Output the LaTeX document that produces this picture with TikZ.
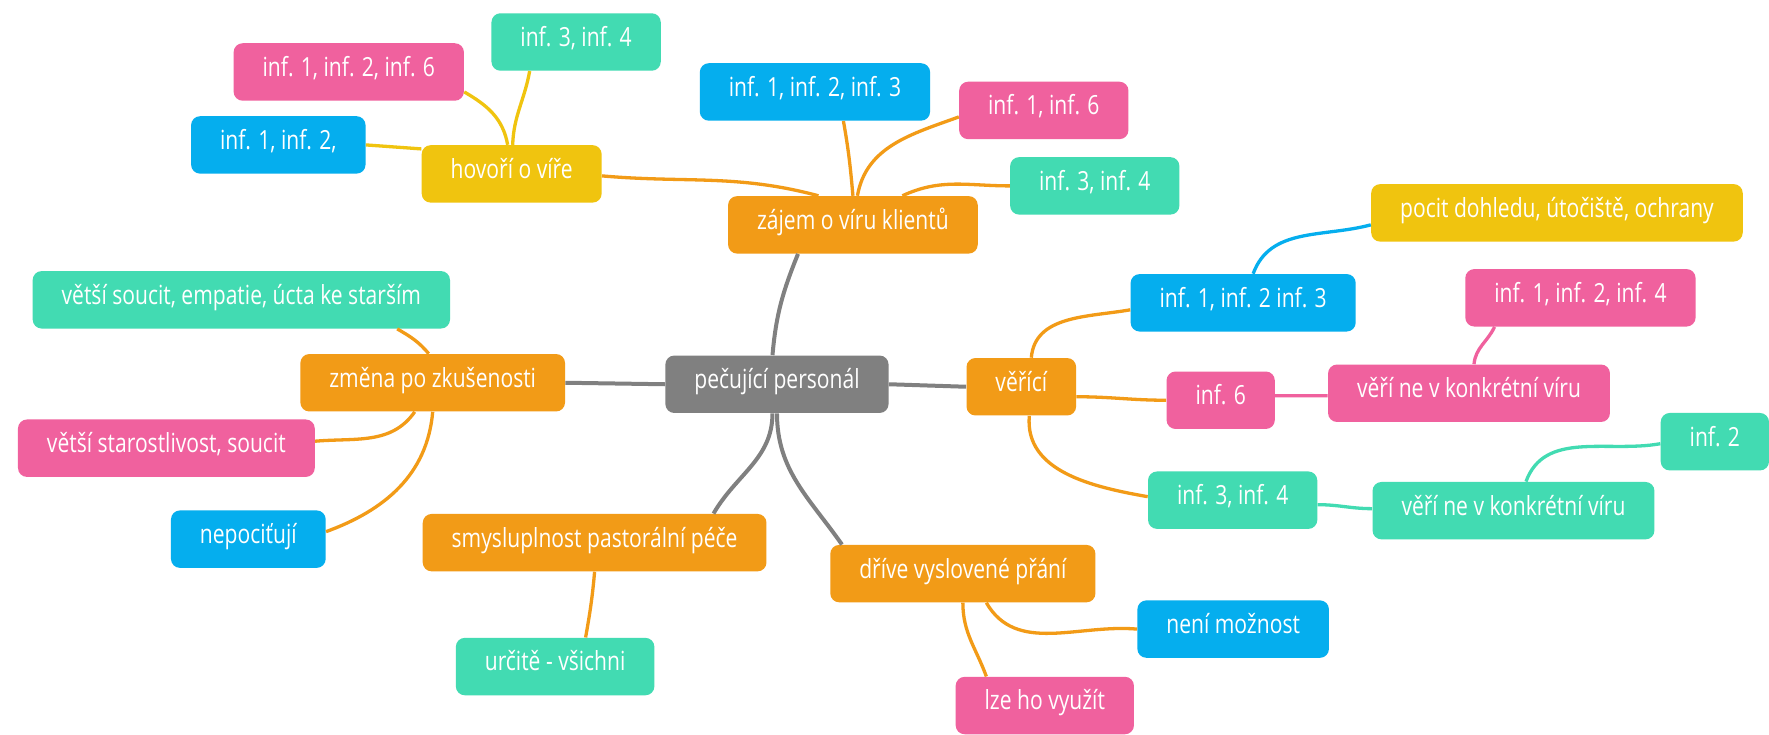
\documentclass[tikz,border=0pt]{standalone}
\usepackage{fontspec}
\setmainfont{Open Sans}[FakeStretch=0.8]
\definecolor{mmgray}{HTML}{808080}
\definecolor{mmorange}{HTML}{F29B17}
\definecolor{mmyellow}{HTML}{F0C40F}
\definecolor{mmblue}{HTML}{05AEEE}
\definecolor{mmpink}{HTML}{F0619E}
\definecolor{mmgreen}{HTML}{42DBB2}
\begin{document}
\begin{tikzpicture}[x=0.02cm,y=-0.02cm,
    every node/.style={rounded corners=0.18cm,text=white,inner xsep=0.58cm,inner ysep=0pt,minimum height=1.15cm,
      text height=0.72em,text depth=0.22em,font=\fontsize{15}{18}\selectfont},
    rootbox/.style={fill=mmgray},orbox/.style={fill=mmorange},yebox/.style={fill=mmyellow},
    blbox/.style={fill=mmblue},pibox/.style={fill=mmpink},grbox/.style={fill=mmgreen},
    grayline/.style={draw=mmgray,line width=0.08cm},orline/.style={draw=mmorange,line width=0.066cm},
    yeline/.style={draw=mmyellow,line width=0.066cm},blline/.style={draw=mmblue,line width=0.066cm},
    piline/.style={draw=mmpink,line width=0.066cm},grline/.style={draw=mmgreen,line width=0.066cm}]
    \fill[white] (0,0) rectangle (1769,735);
    \node[rootbox] (root) at (777.5,384.5) {pečující personál};
    \node[orbox] (zmena) at (433,383) {změna po zkušenosti};
    \node[orbox] (verici) at (1022,387) {věřící};
    \node[orbox] (zajem) at (853.5,225) {zájem o víru klientů};
    \node[orbox] (smysl) at (595,543) {smysluplnost pastorální péče};
    \node[orbox] (drive) at (963.5,574) {dříve vyslovené přání};
    \node[yebox] (hovori) at (512,174) {hovoří o víře};
    \node[pibox] (hovA) at (349,72) {inf. 1, inf. 2, inf. 6};
    \node[grbox] (hovB) at (576.5,42) {inf. 3, inf. 4};
    \node[blbox] (hovC) at (278.5,145) {inf. 1, inf. 2,};
    \node[blbox] (zajA) at (815.5,92) {inf. 1, inf. 2, inf. 3};
    \node[pibox] (zajB) at (1044.5,110.5) {inf. 1, inf. 6};
    \node[grbox] (zajC) at (1095.5,186) {inf. 3, inf. 4};
    \node[blbox] (verA) at (1244,303) {inf. 1, inf. 2 inf. 3};
    \node[yebox] (pocit) at (1558,213) {pocit dohledu, útočiště, ochrany};
    \node[pibox] (verB) at (1221.5,400.5) {inf. 6};
    \node[pibox] (verineA) at (1470,393.5) {věří ne v konkrétní víru};
    \node[pibox] (verAA) at (1581.5,298) {inf. 1, inf. 2, inf. 4};
    \node[grbox] (verC) at (1233.5,500.5) {inf. 3, inf. 4};
    \node[grbox] (verineB) at (1514.5,511) {věří ne v konkrétní víru};
    \node[grbox] (verBB) at (1716,442) {inf. 2};
    \node[grbox] (vetA) at (241.5,300) {větší soucit, empatie, úcta ke starším};
    \node[pibox] (vetB) at (166.5,448.5) {větší starostlivost, soucit};
    \node[blbox] (nepoc) at (248.5,539.5) {nepociťují};
    \node[grbox] (urcite) at (555.5,667) {určitě - všichni};
    \node[blbox] (neni) at (1234,629.5) {není možnost};
    \node[pibox] (lze) at (1045.5,706) {lze ho využít};
    \draw[grayline] (root.west) -- (zmena.east);
    \draw[grayline] (root.east) -- (verici.west);
    \draw[grayline] ([xshift=-0.09cm]root.north) to[out=85,in=-112] ([xshift=-1.1cm]zajem.south);
    \draw[grayline] ([xshift=-0.09cm]root.south) to[out=-90,in=60] ([xshift=2.38cm]smysl.north);
    \draw[grayline] (root.south) to[out=-90,in=125] ([xshift=-2.42cm]drive.north);
    \draw[orline] ([xshift=-0.08cm]zmena.north) to[out=130,in=-30] ([xshift=3.12cm]vetA.south);
    \draw[orline] ([xshift=-0.36cm]zmena.south) to[out=-125,in=5] ([yshift=0.14cm]vetB.east);
    \draw[orline] (zmena.south) to[out=-95,in=20] ([yshift=0.15cm]nepoc.east);
    \draw[orline] ([xshift=0.2cm]verici.north) to[out=85,in=190] ([yshift=-0.14cm]verA.west);
    \draw[orline] ([yshift=-0.2cm]verici.east) to[out=0,in=180] (verB.west);
    \draw[orline] ([xshift=0.16cm]verici.south) to[out=-95,in=170] ([yshift=0.07cm]verC.west);
    \draw[blline] ([xshift=0.2cm]verA.north) to[out=70,in=195] ([yshift=-0.24cm]pocit.west);
    \draw[piline] ([yshift=0.09cm]verB.east) to[out=0,in=180] ([yshift=-0.05cm]verineA.west);
    \draw[piline] ([xshift=0.1cm]verineA.north) to[out=85,in=-115] ([xshift=-1.72cm]verAA.south);
    \draw[grline] ([yshift=-0.09cm]verC.east) to[out=0,in=180] ([yshift=0.04cm]verineB.west);
    \draw[grline] ([xshift=0.25cm]verineB.north) to[out=70,in=190] ([yshift=-0.04cm]verBB.west);
    \draw[orline] ([xshift=-0.69cm]zajem.north) to[out=165,in=-5] ([yshift=-0.04cm]hovori.east);
    \draw[orline] (zajem.north) to[out=95,in=-80] ([xshift=0.57cm]zajA.south);
    \draw[orline] ([xshift=0.09cm]zajem.north) to[out=80,in=200] ([yshift=-0.13cm]zajB.west);
    \draw[orline] ([xshift=0.99cm]zajem.north) to[out=25,in=180] (zajC.west);
    \draw[yeline] ([xshift=-0.08cm]hovori.north) to[out=100,in=-30] ([yshift=-0.4cm]hovA.east);
    \draw[yeline] ([xshift=0.02cm]hovori.north) to[out=88,in=-100] ([xshift=-0.93cm]hovB.south);
    \draw[yeline] ([yshift=0.5cm]hovori.west) -- (hovC.east);
    \draw[orline] (smysl.south) to[out=-95,in=80] ([xshift=0.61cm]urcite.north);
    \draw[orline] ([xshift=0.47cm]drive.south) to[out=-60,in=175] (neni.west);
    \draw[orline] (drive.south) to[out=-90,in=110] ([xshift=-1.17cm]lze.north);
\end{tikzpicture}
\end{document}
